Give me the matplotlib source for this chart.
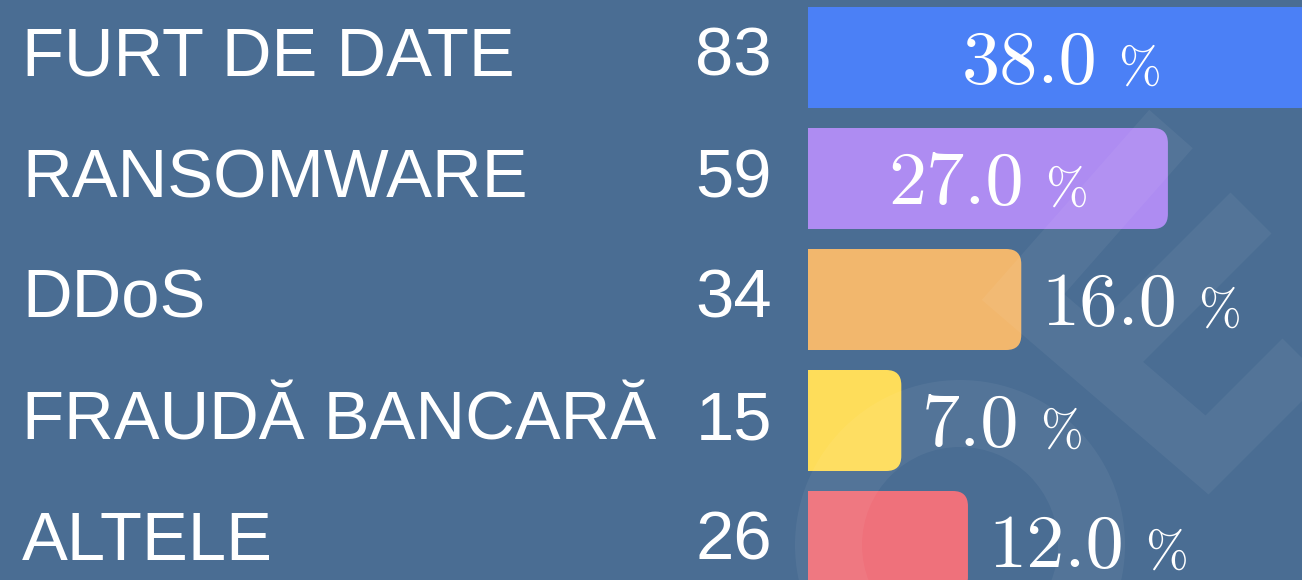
import matplotlib
matplotlib.use("Agg")
import matplotlib.pyplot as plt
import numpy as np
from matplotlib.patches import FancyBboxPatch, Annulus
from matplotlib.lines import Line2D
from matplotlib.transforms import IdentityTransform

# ---------------- data ----------------
categories = ["FURT DE DATE", "RANSOMWARE", "DDoS", "FRAUDĂ BANCARĂ", "ALTELE"]
counts = [83, 59, 34, 15, 26]
percents = [38.0, 27.0, 16.0, 7.0, 12.0]
bar_colors = ["#4b80f6", "#ae8cf2", "#f2b76d", "#fedd5a", "#ef717b"]
BG = "#4a6d93"

# ---------------- layout ----------------
W, H, DPI = 1302, 580, 100
fig = plt.figure(figsize=(W / DPI, H / DPI), dpi=DPI, facecolor=BG)

AX_LEFT = 808          # px where bars start
PX_PER_PCT = 13.33     # horizontal scale
ROW_PX = 121           # row pitch
FIRST_CENTER = 57.5    # px from top to first row centre
BAR_PX = 101

ax = fig.add_axes([AX_LEFT / W, 0, 1 - AX_LEFT / W, 1])
ax.set_facecolor("none")
ax.axis("off")
ax.set_xlim(0, (W - AX_LEFT) / PX_PER_PCT)
ax.set_ylim((H - FIRST_CENTER) / ROW_PX, -FIRST_CENTER / ROW_PX)

x_per_px = 1 / PX_PER_PCT
y_per_px = 1 / ROW_PX
bar_h = BAR_PX * y_per_px
rad = 15 * x_per_px
aspect = y_per_px / x_per_px

for i, (p, c) in enumerate(zip(percents, bar_colors)):
    patch = FancyBboxPatch((-2 * rad, i - bar_h / 2), p + 2 * rad, bar_h,
                           boxstyle=f"round,pad=0,rounding_size={rad}",
                           mutation_aspect=aspect, fc=c, ec="none", zorder=2)
    ax.add_patch(patch)

# ---------------- watermark (decorative, figure pixels) ----------------
def d(x, y):
    return (x, H - y)

wm_alpha = 0.05
band = [d(1171, 129), d(1023, 297), d(1207, 455), d(1420, 242),
        (np.nan, np.nan), d(1251, 213), d(1100, 364)]
bx, by = zip(*band)
fig.add_artist(Line2D(bx, by, lw=58 * 72 / DPI, color="white", alpha=wm_alpha,
                      solid_joinstyle="miter", solid_capstyle="butt",
                      transform=IdentityTransform(), zorder=3))
fig.add_artist(Annulus(d(960, 545), 165, 67, fc="white", ec="none",
                       alpha=wm_alpha, transform=IdentityTransform(), zorder=3))

# ---------------- texts ----------------
renderer = fig.canvas.get_renderer()
label_font = "Liberation Sans"

for i, (cat, n) in enumerate(zip(categories, counts)):
    yc = ax.transData.transform((0, i))[1]
    fig.text(22, yc - 18.5, cat, transform=IdentityTransform(), fontfamily=label_font,
             fontsize=49.5, color="white", ha="left", va="baseline", zorder=5)
    fig.text(772, yc - 18.5, str(n), transform=IdentityTransform(), fontfamily=label_font,
             fontsize=49.5, color="white", ha="right", va="baseline", zorder=5)

for i, p in enumerate(percents):
    t1 = fig.text(0, 0, f"{p:.1f}", transform=IdentityTransform(), fontfamily="cmr10",
                  fontsize=55, color="white", ha="left", va="baseline", zorder=5)
    t2 = fig.text(0, 0, "%", transform=IdentityTransform(), fontfamily="cmr10",
                  fontsize=37, color="white", ha="left", va="baseline", zorder=5)
    w1 = t1.get_window_extent(renderer).width
    w2 = t2.get_window_extent(renderer).width
    gap = 21
    total = w1 + gap + w2
    x_start, yc = ax.transData.transform((0, i))
    x_end = ax.transData.transform((p, i))[0]
    if x_end - x_start > total + 60:
        x0 = (x_start + x_end) / 2 - total / 2
    else:
        x0 = x_end + 20
    yb = yc - 25.5
    t1.set_position((x0, yb))
    t2.set_position((x0 + w1 + gap, yb))

fig.savefig("out.png", dpi=DPI, facecolor=BG)
